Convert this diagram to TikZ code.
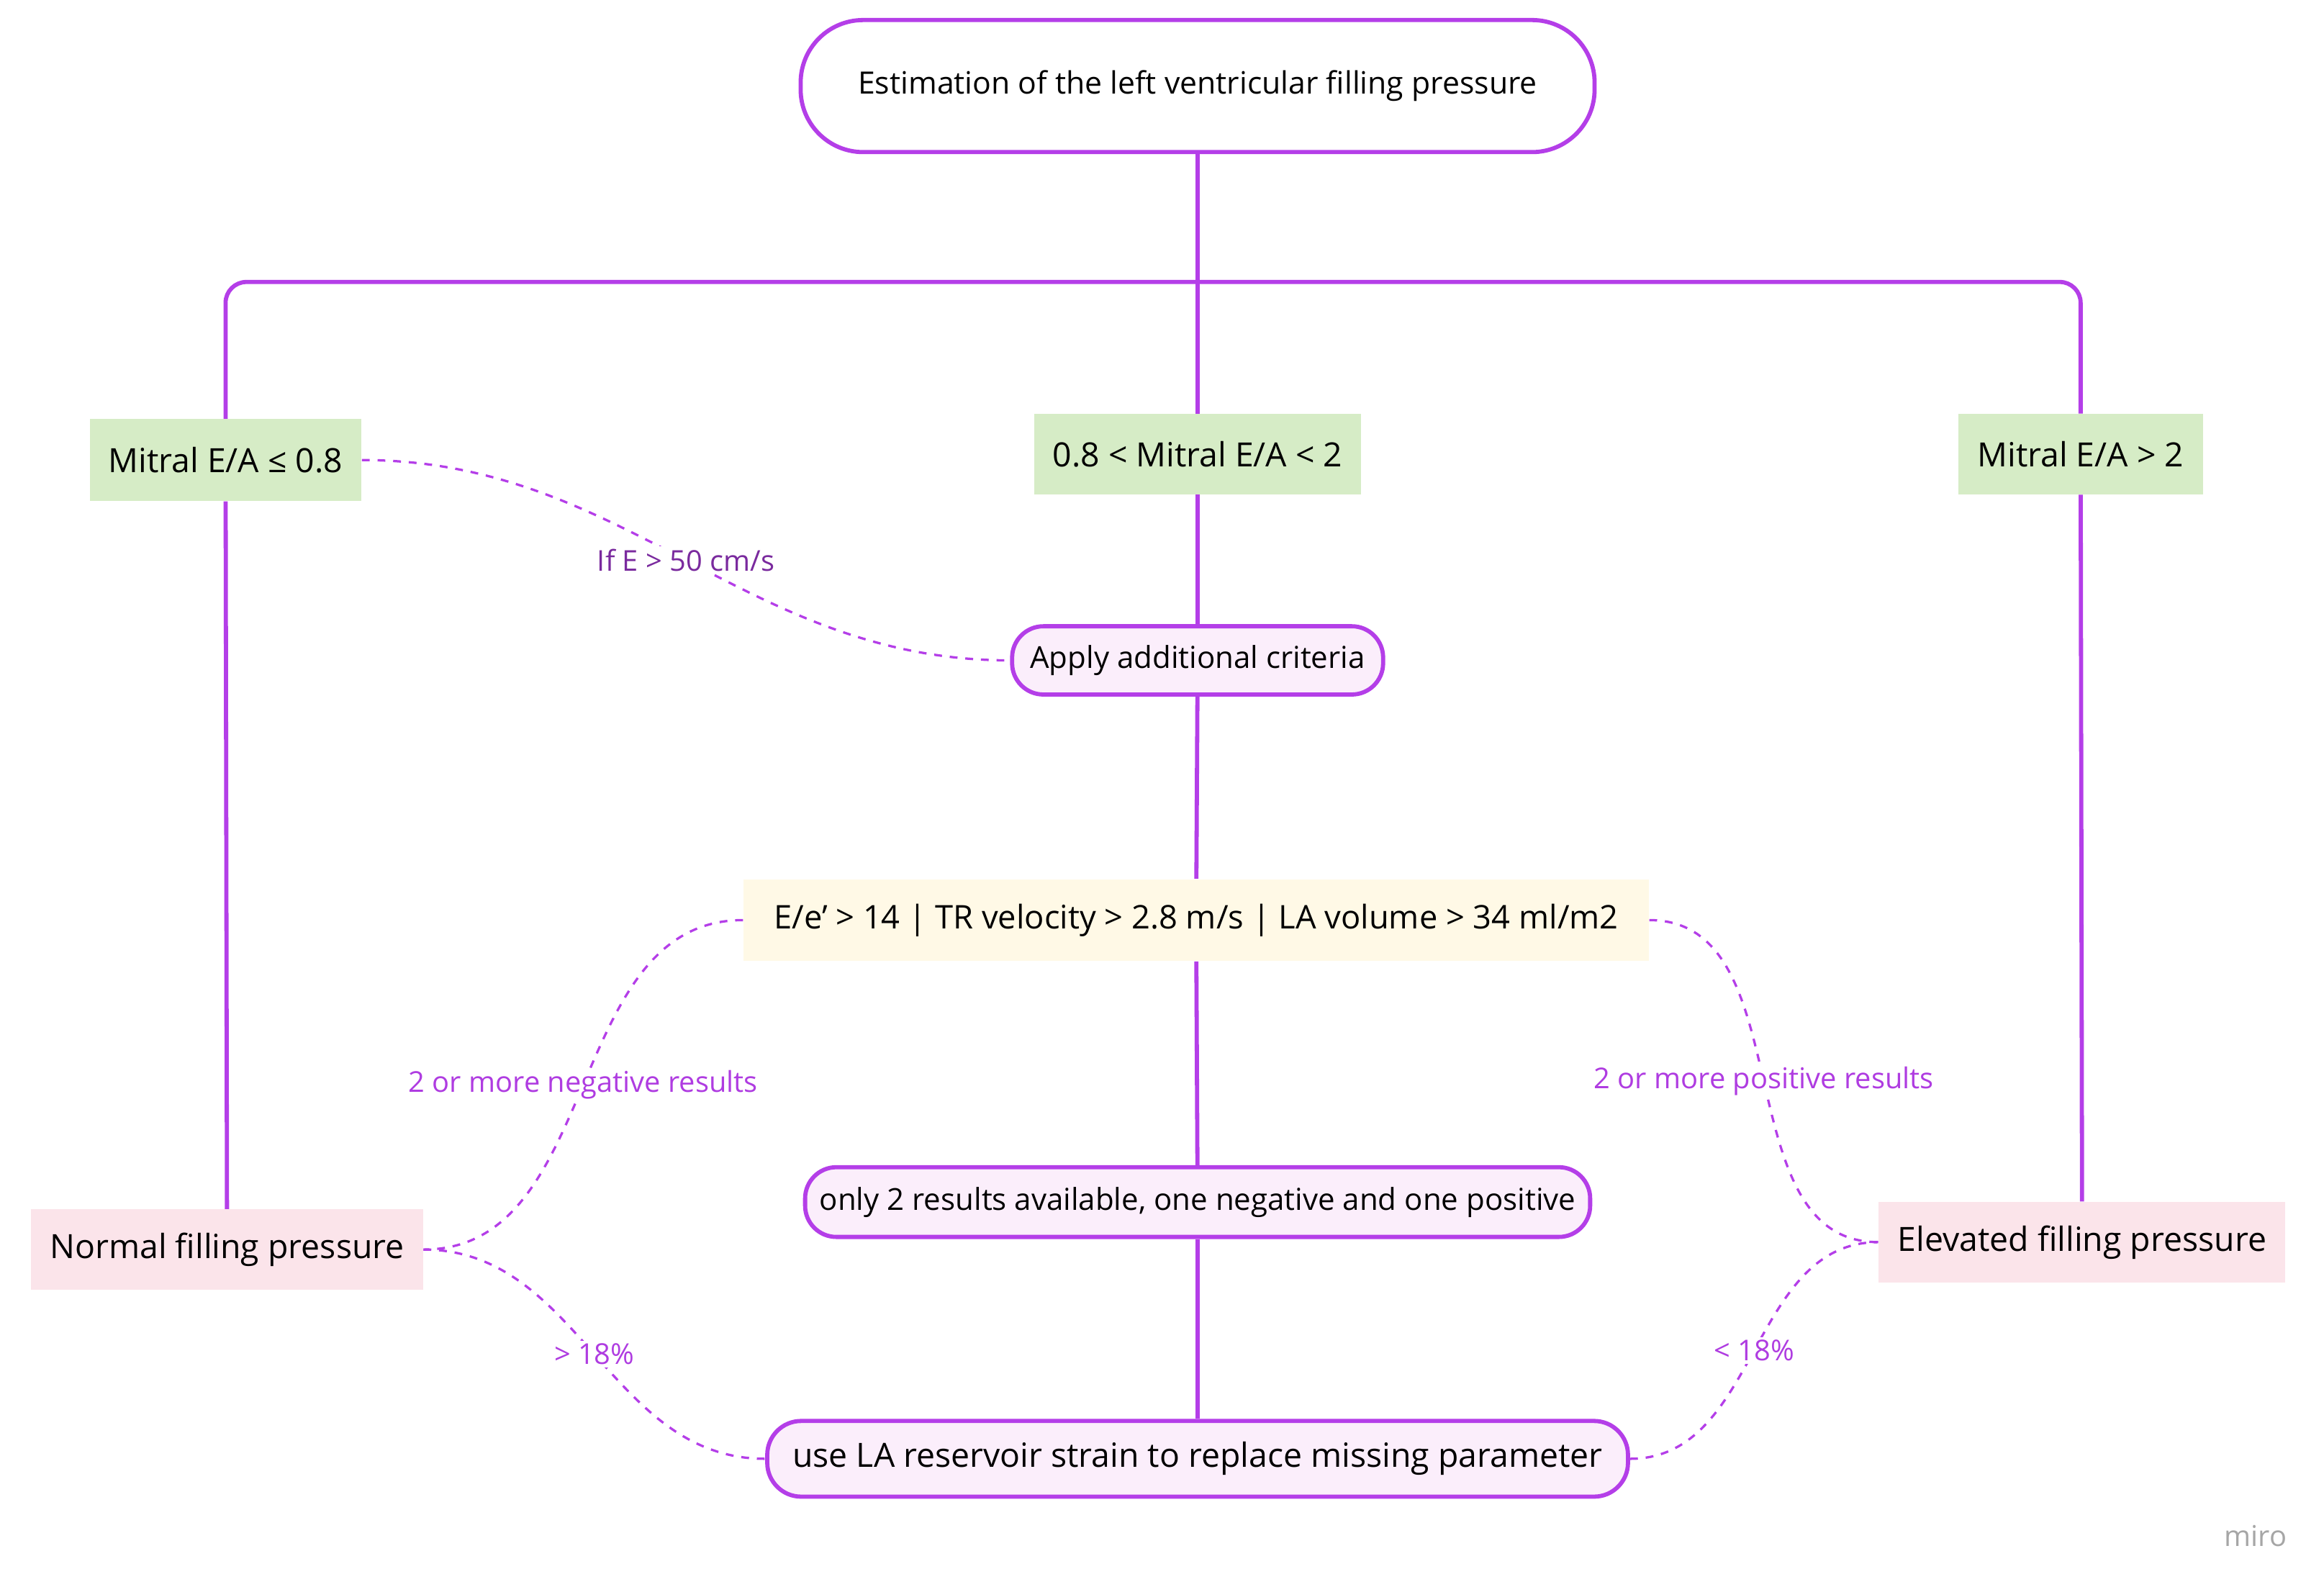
\documentclass[tikz,border=0pt]{standalone}
\usepackage{fontspec}
\setmainfont{Open Sans}
\begin{document}
\definecolor{wire}{RGB}{180,62,232}
\definecolor{lbl}{RGB}{175,60,225}
\definecolor{pill}{RGB}{251,238,251}
\definecolor{grn}{RGB}{214,236,198}
\definecolor{ylw}{RGB}{255,249,230}
\definecolor{pnk}{RGB}{251,228,234}
\begin{tikzpicture}[x=0.02cm,y=-0.02cm,
  wire/.style={draw=wire,line width=1.6pt},
  dashc/.style={draw=wire,line width=0.9pt,dash pattern=on 3pt off 3pt},
  pillb/.style={draw=wire,line width=1.6pt,fill=pill,rounded corners=12pt,inner sep=0pt,font=\fontsize{11.6}{13}\selectfont},
  box/.style={inner sep=0pt,font=\fontsize{12.8}{14}\selectfont},
  lab/.style={text=lbl,fill=white,inner sep=1pt,font=\fontsize{11}{12}\selectfont}]
\useasboundingbox (0,0) rectangle (1566,1057);
\node[pillb,fill=white,rounded corners=24pt,font=\fontsize{11.8}{13}\selectfont,minimum width=535*0.02cm,minimum height=89*0.02cm] (top) at (807,58) {Estimation of the left ventricular filling pressure};
\node[box,fill=grn,minimum width=183*0.02cm,minimum height=55*0.02cm] (n1) at (152,310) {Mitral E/A ≤ 0.8};
\node[box,fill=grn,minimum width=220*0.02cm,minimum height=54*0.02cm] (n2) at (807,306) {0.8 < Mitral E/A < 2};
\node[box,fill=grn,minimum width=165*0.02cm,minimum height=54*0.02cm] (n3) at (1402,306) {Mitral E/A > 2};
\node[pillb,minimum width=250*0.02cm,minimum height=46*0.02cm] (ap) at (807,445) {Apply additional criteria};
\node[box,fill=ylw,font=\fontsize{12.5}{14}\selectfont,minimum width=610*0.02cm,minimum height=55*0.02cm] (y) at (806,620) {E/e' > 14 | TR velocity > 2.8 m/s | LA volume > 34 ml/m2};
\node[pillb,minimum width=529*0.02cm,minimum height=47*0.02cm] (o2) at (807,810) {only 2 results available, one negative and one positive};
\node[pillb,rounded corners=13pt,font=\fontsize{12.8}{14}\selectfont,minimum width=580*0.02cm,minimum height=51*0.02cm] (la) at (807,983) {use LA reservoir strain to replace missing parameter};
\node[box,fill=pnk,minimum width=264*0.02cm,minimum height=54*0.02cm] (nf) at (153,842) {Normal filling pressure};
\node[box,fill=pnk,minimum width=274*0.02cm,minimum height=54*0.02cm] (ef) at (1403,837) {Elevated filling pressure};
\coordinate (hub) at (807,190);
\draw[wire] (top.south) -- (hub);
\draw[wire,rounded corners=8] (hub) -| (n1.north);
\draw[wire,rounded corners=8] (hub) -| (n3.north);
\draw[wire] (hub) -- (n2.north);
\draw[wire] (n2) -- (ap);
\draw[wire] (ap) -- (y);
\draw[wire] (y) -- (o2);
\draw[wire] (o2) -- (la);
\draw[wire] (n1) -- (nf);
\draw[wire] (n3) -- (ef);
\draw[dashc] (n1.east) to[out=0,in=180] node[lab,text=lbl!70!black] {If E > 50 cm/s} (ap.west);
\draw[dashc] (y.west) to[out=180,in=0] node[lab] {2 or more negative results} (nf.east);
\draw[dashc] (y.east) to[out=0,in=180] node[lab] {2 or more positive results} (ef.west);
\draw[dashc] (nf.east) to[out=0,in=180] node[lab] {> 18\%} (la.west);
\draw[dashc] (la.east) to[out=0,in=180] node[lab] {< 18\%} (ef.west);
\node[text=black!35,font=\fontsize{11}{12}\selectfont] (miro) at (1520,1035) {miro};
\end{tikzpicture}
\end{document}
